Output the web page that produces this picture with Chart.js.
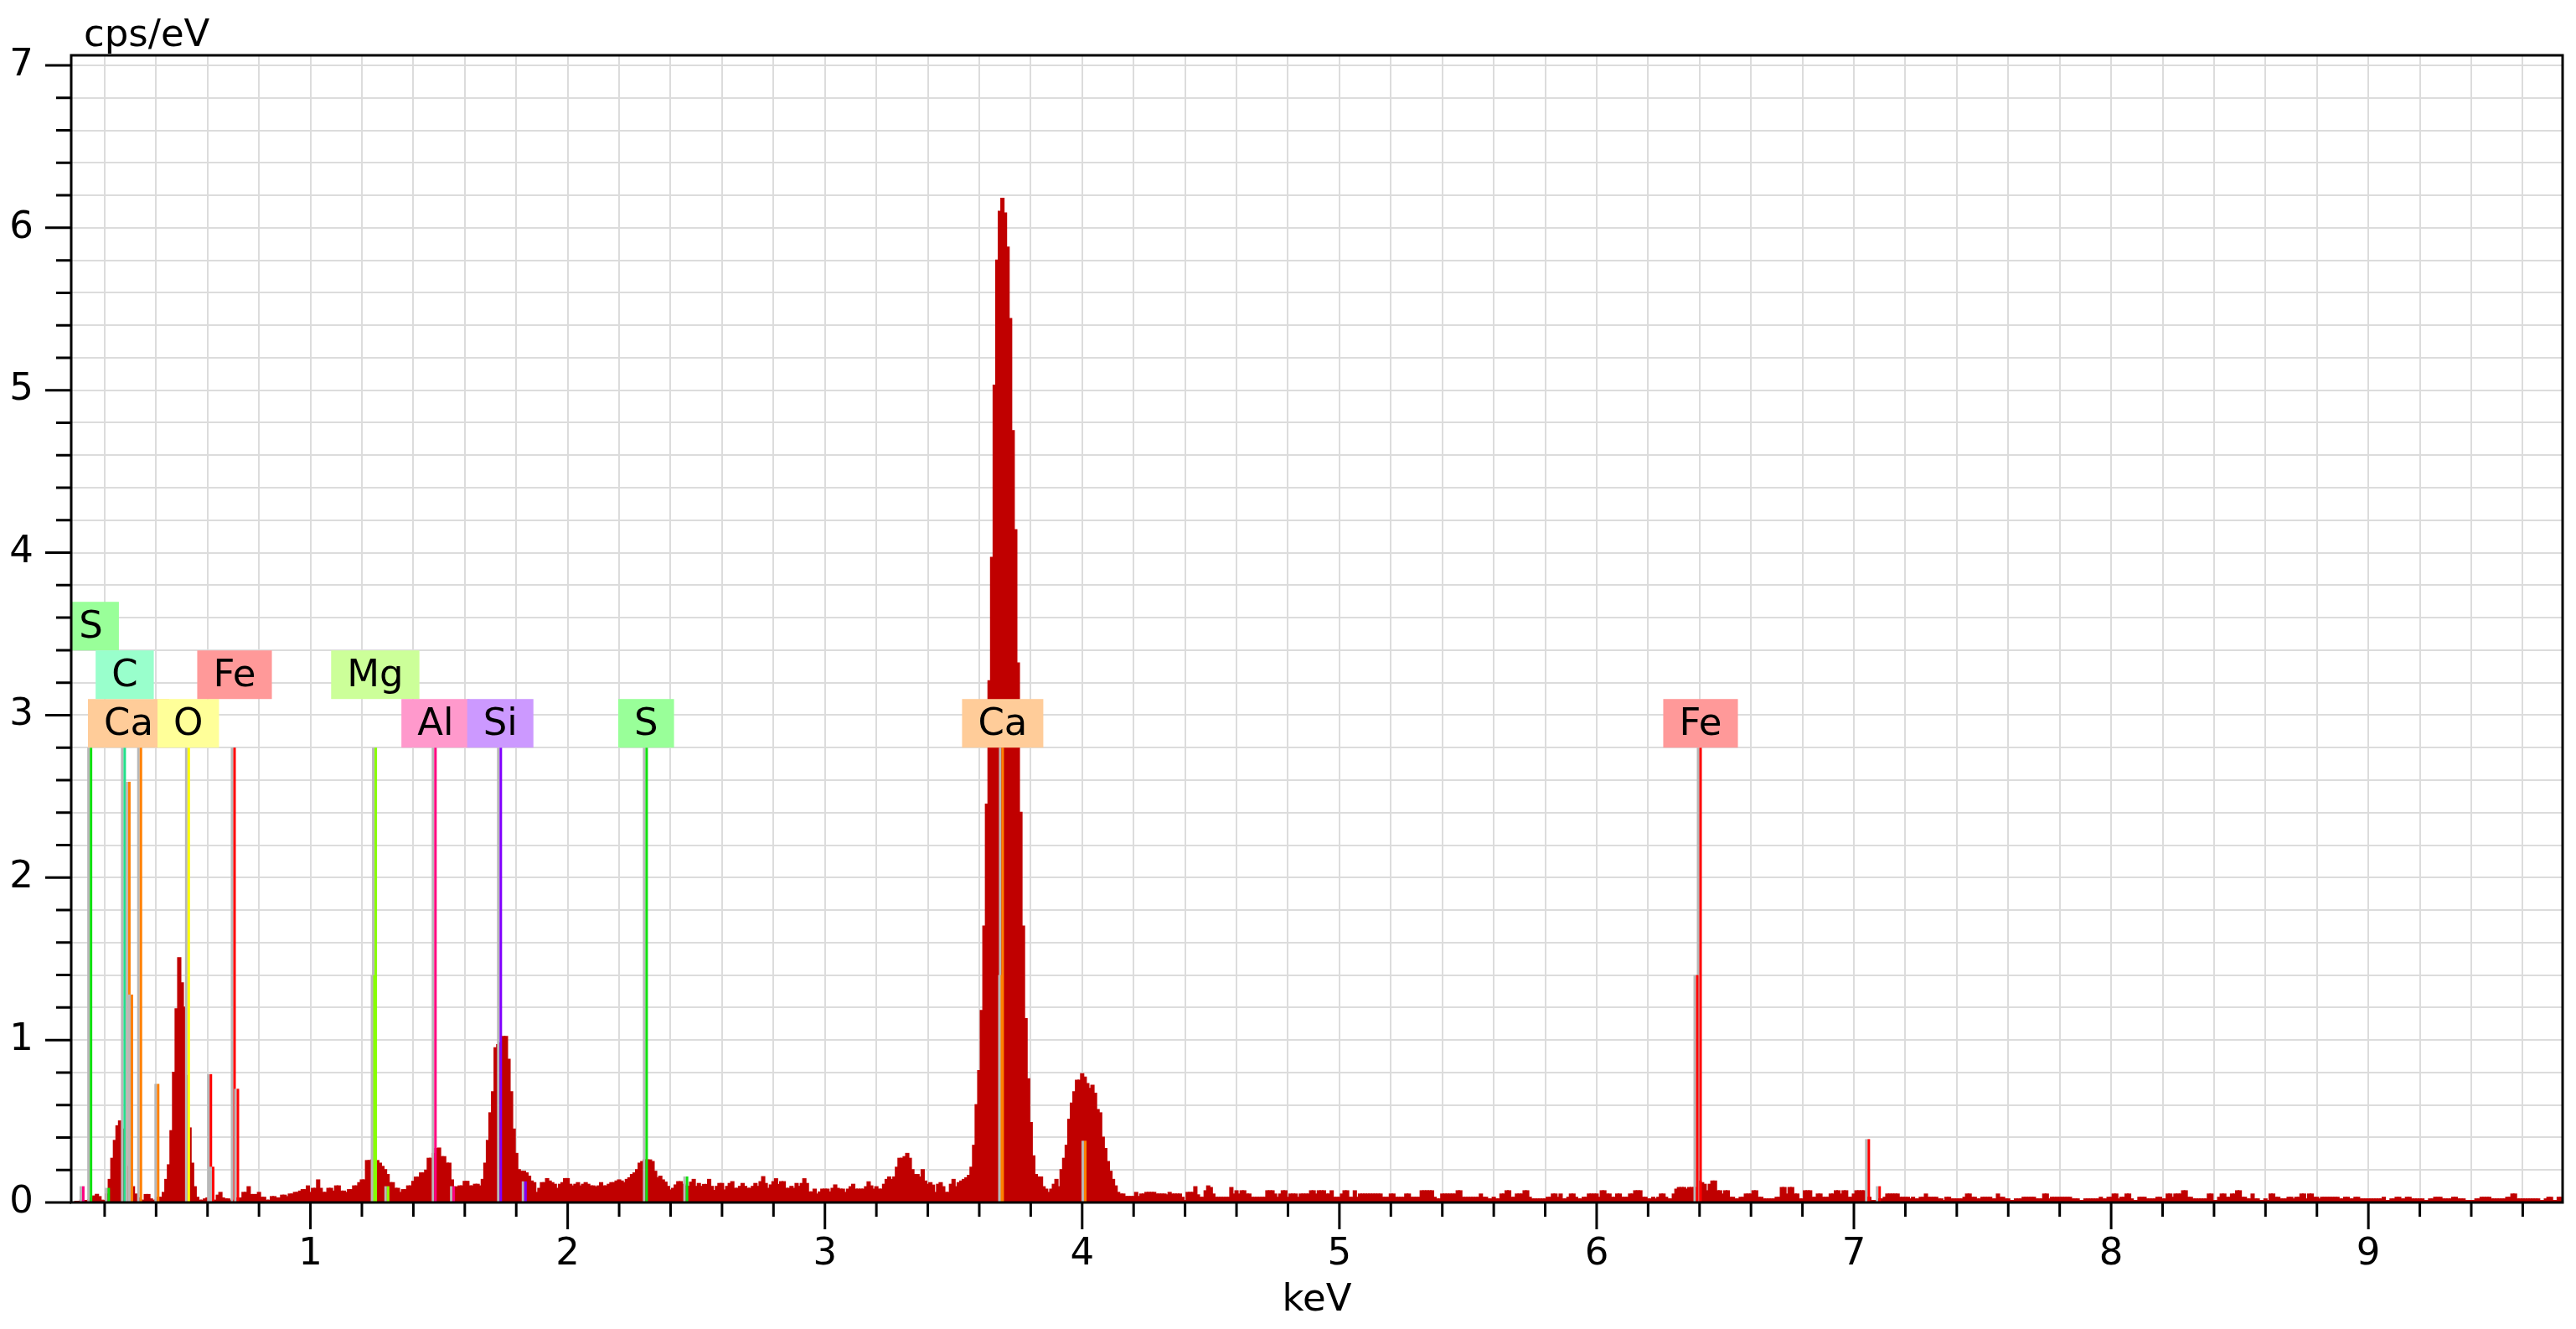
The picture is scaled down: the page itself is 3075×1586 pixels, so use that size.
<!DOCTYPE html>
<html>
<head>
<meta charset="utf-8">
<script src="https://cdn.jsdelivr.net/npm/chart.js@4.4.1/dist/chart.umd.min.js"></script>
<style>
  html, body { margin: 0; padding: 0; background: #fff; }
  #spec { display: block; }
</style>
</head>
<body>
<canvas id="spec" width="3075" height="1586"></canvas>
<script>
// --- Spectrum: 10 eV channels starting at 0.07 keV (cps/eV) ---
const spectrumStart = 0.07;
const channelWidth = 0.01;
const counts = [
  0, 0, 0.005, 0.005, 0.012, 0.01, 0.01, 0.015, 0.026, 0.038,          // 0.07
  0.048, 0.034, 0.012, 0.01, 0.05, 0.14, 0.27, 0.38, 0.47, 0.50,       // 0.17
  0.45, 0.34, 0.22, 0.14, 0.095, 0.05, 0.026, 0.012, 0.012, 0.047,     // 0.27
  0.047, 0.02, 0.012, 0.012, 0.03, 0.03, 0.06, 0.14, 0.23, 0.44,       // 0.37
  0.80, 1.19, 1.505, 1.35, 1.20, 0.78, 0.457, 0.24, 0.095, 0.03,       // 0.47
  0.012, 0.012, 0.02, 0.026, 0.012, 0.012, 0.012, 0.043, 0.06, 0.026,  // 0.57
  0.02, 0.02, 0.012, 0.012, 0.026, 0.012, 0.026, 0.06, 0.06, 0.095,    // 0.67
  0.047, 0.047, 0.047, 0.06, 0.03, 0.03, 0.012, 0.012, 0.034, 0.034,   // 0.77
  0.026, 0.026, 0.043, 0.043, 0.034, 0.05, 0.05, 0.06, 0.06, 0.068,    // 0.87
  0.077, 0.077, 0.10, 0.06, 0.085, 0.085, 0.137, 0.085, 0.06, 0.06,    // 0.97
  0.085, 0.085, 0.068, 0.10, 0.10, 0.068, 0.068, 0.06, 0.077, 0.077,   // 1.07
  0.10, 0.10, 0.12, 0.137, 0.137, 0.256, 0.256, 0.26, 0.26, 0.256,     // 1.17
  0.24, 0.22, 0.20, 0.17, 0.12, 0.12, 0.085, 0.085, 0.06, 0.077,       // 1.27
  0.077, 0.10, 0.10, 0.128, 0.154, 0.154, 0.18, 0.18, 0.197, 0.27,     // 1.37
  0.27, 0.30, 0.33, 0.333, 0.28, 0.28, 0.24, 0.24, 0.137, 0.094,       // 1.47
  0.094, 0.10, 0.10, 0.128, 0.128, 0.10, 0.10, 0.11, 0.11, 0.10,       // 1.57
  0.14, 0.24, 0.38, 0.55, 0.68, 0.95, 0.97, 0.98, 1.02, 1.02,          // 1.67
  0.88, 0.68, 0.45, 0.30, 0.20, 0.19, 0.19, 0.18, 0.16, 0.13,          // 1.77
  0.12, 0.06, 0.085, 0.12, 0.12, 0.145, 0.13, 0.12, 0.11, 0.085,       // 1.87
  0.11, 0.12, 0.145, 0.145, 0.11, 0.10, 0.11, 0.12, 0.10, 0.11,        // 1.97
  0.12, 0.11, 0.10, 0.10, 0.094, 0.10, 0.12, 0.10, 0.10, 0.11,         // 2.07
  0.12, 0.12, 0.13, 0.137, 0.13, 0.12, 0.14, 0.15, 0.17, 0.18,         // 2.17
  0.20, 0.24, 0.25, 0.26, 0.26, 0.26, 0.25, 0.19, 0.15, 0.16,          // 2.27
  0.137, 0.123, 0.097, 0.075, 0.085, 0.106, 0.126, 0.126, 0.11, 0.10,  // 2.37
  0.097, 0.123, 0.14, 0.097, 0.115, 0.097, 0.109, 0.109, 0.14, 0.097,  // 2.47
  0.072, 0.097, 0.115, 0.115, 0.075, 0.097, 0.115, 0.126, 0.085, 0.085,// 2.57
  0.097, 0.115, 0.097, 0.085, 0.085, 0.097, 0.115, 0.097, 0.126, 0.157,// 2.67
  0.115, 0.085, 0.106, 0.126, 0.144, 0.109, 0.126, 0.126, 0.085, 0.085,// 2.77
  0.097, 0.085, 0.115, 0.097, 0.115, 0.144, 0.115, 0.063, 0.063, 0.08, // 2.87
  0.05, 0.063, 0.08, 0.08, 0.08, 0.063, 0.085, 0.106, 0.085, 0.08,     // 2.97
  0.08, 0.06, 0.08, 0.095, 0.11, 0.08, 0.08, 0.08, 0.08, 0.095,        // 3.07
  0.125, 0.10, 0.08, 0.095, 0.08, 0.08, 0.11, 0.14, 0.155, 0.14,       // 3.17
  0.155, 0.215, 0.27, 0.27, 0.28, 0.30, 0.27, 0.20, 0.17, 0.17,        // 3.27
  0.155, 0.20, 0.13, 0.11, 0.12, 0.105, 0.06, 0.11, 0.12, 0.095,       // 3.37
  0.06, 0.06, 0.11, 0.14, 0.095, 0.12, 0.13, 0.14, 0.15, 0.165,        // 3.47
  0.215, 0.35, 0.60, 0.81, 1.18, 1.70, 2.45, 3.21, 3.97, 5.03,         // 3.57
  5.80, 6.10, 6.18, 6.09, 5.88, 5.44, 4.75, 4.14, 3.32, 2.40,          // 3.67
  1.70, 1.13, 0.76, 0.49, 0.285, 0.17, 0.155, 0.155, 0.095, 0.08,      // 3.77
  0.06, 0.08, 0.11, 0.14, 0.095, 0.20, 0.27, 0.35, 0.51, 0.61,         // 3.87
  0.68, 0.75, 0.75, 0.79, 0.77, 0.73, 0.70, 0.72, 0.67, 0.57,          // 3.97
  0.55, 0.40, 0.33, 0.25, 0.19, 0.14, 0.10, 0.06, 0.05, 0.05,          // 4.07
  0.035, 0.035, 0.035, 0.035, 0.06, 0.035, 0.05, 0.05, 0.06, 0.06,     // 4.17
  0.06, 0.06, 0.05, 0.05, 0.05, 0.05, 0.045, 0.06, 0.05, 0.05,         // 4.27
  0.05, 0.05, 0.03, 0.01, 0.06, 0.06, 0.06, 0.095, 0.045, 0.03,        // 4.37
  0.03, 0.07, 0.10, 0.09, 0.05, 0.03, 0.03, 0.03, 0.03, 0.03,          // 4.47
  0.03, 0.09, 0.05, 0.07, 0.05, 0.07, 0.07, 0.05, 0.05, 0.03,          // 4.57
  0.03, 0.03, 0.03, 0.03, 0.03, 0.07, 0.07, 0.07, 0.05, 0.03,          // 4.67
  0.05, 0.07, 0.07, 0.03, 0.05, 0.05, 0.05, 0.03, 0.05, 0.05,          // 4.77
  0.05, 0.05, 0.07, 0.07, 0.05, 0.07, 0.07, 0.07, 0.05, 0.05,          // 4.87
  0.07, 0.03, 0.03, 0.03, 0.05, 0.07, 0.07, 0.03, 0.03, 0.07,          // 4.97
  0.03, 0.05, 0.05, 0.05, 0.05, 0.05, 0.05, 0.05, 0.05, 0.05,          // 5.07
  0.03, 0.03, 0.03, 0.05, 0.05, 0.03, 0.03, 0.03, 0.03, 0.05,          // 5.17
  0.05, 0.03, 0.03, 0.03, 0.03, 0.07, 0.07, 0.07, 0.07, 0.07,          // 5.27
  0.03, 0.02, 0.02, 0.05, 0.05, 0.05, 0.05, 0.05, 0.05, 0.07,          // 5.37
  0.07, 0.03, 0.03, 0.03, 0.03, 0.03, 0.03, 0.03, 0.05, 0.03,          // 5.47
  0.03, 0.02, 0.02, 0.03, 0.02, 0.02, 0.05, 0.05, 0.07, 0.07,          // 5.57
  0.03, 0.03, 0.05, 0.05, 0.05, 0.07, 0.07, 0.03, 0.02, 0.02,          // 5.67
  0.02, 0.02, 0.02, 0.02, 0.03, 0.03, 0.05, 0.05, 0.03, 0.05,          // 5.77
  0.02, 0.02, 0.03, 0.05, 0.05, 0.03, 0.02, 0.02, 0.03, 0.03,          // 5.87
  0.05, 0.05, 0.05, 0.05, 0.03, 0.07, 0.07, 0.05, 0.05, 0.03,          // 5.97
  0.03, 0.05, 0.05, 0.03, 0.03, 0.03, 0.05, 0.05, 0.07, 0.07,          // 6.07
  0.07, 0.03, 0.03, 0.02, 0.02, 0.03, 0.02, 0.03, 0.05, 0.05,          // 6.17
  0.03, 0.02, 0.02, 0.05, 0.08, 0.09, 0.09, 0.09, 0.08, 0.09,          // 6.27
  0.09, 0.09, 0.09, 0.13, 0.12, 0.11, 0.07, 0.11, 0.13, 0.13,          // 6.37
  0.07, 0.07, 0.05, 0.07, 0.07, 0.03, 0.03, 0.02, 0.02, 0.03,          // 6.47
  0.03, 0.05, 0.05, 0.05, 0.07, 0.07, 0.03, 0.03, 0.02, 0.02,          // 6.57
  0.02, 0.02, 0.02, 0.03, 0.03, 0.09, 0.09, 0.05, 0.09, 0.09,          // 6.67
  0.05, 0.05, 0.02, 0.02, 0.07, 0.07, 0.07, 0.03, 0.03, 0.05,          // 6.77
  0.05, 0.03, 0.03, 0.03, 0.05, 0.05, 0.07, 0.07, 0.05, 0.07,          // 6.87
  0.07, 0.03, 0.03, 0.05, 0.07, 0.07, 0.07, 0.07, 0.03, 0.03,          // 6.97
  0.01, 0.01, 0.01, 0.02, 0.02, 0.03, 0.05, 0.05, 0.05, 0.05,          // 7.07
  0.05, 0.03, 0.03, 0.03, 0.03, 0.02, 0.03, 0.02, 0.02, 0.03,          // 7.17
  0.03, 0.05, 0.03, 0.03, 0.03, 0.03, 0.02, 0.02, 0.01, 0.03,          // 7.27
  0.03, 0.02, 0.02, 0.02, 0.02, 0.02, 0.03, 0.05, 0.05, 0.03,          // 7.37
  0.03, 0.02, 0.02, 0.03, 0.03, 0.03, 0.03, 0.02, 0.02, 0.05,          // 7.47
  0.03, 0.03, 0.02, 0.02, 0.01, 0.01, 0.02, 0.02, 0.02, 0.03,          // 7.57
  0.03, 0.03, 0.03, 0.03, 0.02, 0.02, 0.02, 0.05, 0.05, 0.02,          // 7.67
  0.03, 0.03, 0.03, 0.03, 0.03, 0.03, 0.03, 0.03, 0.02, 0.02,          // 7.77
  0.02, 0.01, 0.01, 0.02, 0.02, 0.02, 0.02, 0.02, 0.02, 0.03,          // 7.87
  0.02, 0.02, 0.03, 0.03, 0.05, 0.05, 0.02, 0.03, 0.03, 0.05,          // 7.97
  0.05, 0.02, 0.01, 0.01, 0.03, 0.03, 0.03, 0.02, 0.02, 0.02,          // 8.07
  0.02, 0.03, 0.03, 0.02, 0.02, 0.05, 0.05, 0.03, 0.05, 0.05,          // 8.17
  0.05, 0.07, 0.07, 0.03, 0.03, 0.02, 0.02, 0.02, 0.02, 0.02,          // 8.27
  0.02, 0.05, 0.05, 0.01, 0.01, 0.03, 0.05, 0.05, 0.03, 0.03,          // 8.37
  0.05, 0.05, 0.07, 0.07, 0.03, 0.03, 0.02, 0.02, 0.05, 0.02,          // 8.47
  0.02, 0.01, 0.01, 0.02, 0.01, 0.05, 0.05, 0.03, 0.03, 0.02,          // 8.57
  0.02, 0.02, 0.03, 0.03, 0.02, 0.03, 0.03, 0.05, 0.05, 0.02,          // 8.67
  0.05, 0.05, 0.03, 0.03, 0.02, 0.03, 0.03, 0.03, 0.03, 0.03,          // 8.77
  0.03, 0.03, 0.02, 0.02, 0.03, 0.03, 0.02, 0.02, 0.03, 0.03,          // 8.87
  0.02, 0.02, 0.02, 0.02, 0.02, 0.02, 0.02, 0.02, 0.02, 0.03,          // 8.97
  0.01, 0.01, 0.02, 0.02, 0.03, 0.03, 0.02, 0.02, 0.03, 0.03,          // 9.07
  0.02, 0.02, 0.02, 0.02, 0.02, 0.01, 0.01, 0.02, 0.02, 0.03,          // 9.17
  0.03, 0.03, 0.02, 0.02, 0.02, 0.02, 0.03, 0.03, 0.02, 0.02,          // 9.27
  0.02, 0.01, 0.01, 0.01, 0.01, 0.02, 0.02, 0.03, 0.03, 0.03,          // 9.37
  0.03, 0.02, 0.02, 0.02, 0.02, 0.02, 0.02, 0.03, 0.03, 0.05,          // 9.47
  0.05, 0.02, 0.02, 0.02, 0.02, 0.02, 0.02, 0.02, 0.02, 0.02,          // 9.57
  0.01, 0.01, 0.02, 0.03, 0.03, 0.01, 0.01, 0.03, 0.03, 0.03           // 9.67
];

// --- Element line markers (keV, relative height in cps/eV) ---
const markerElement = ['Al', 'S', 'S', 'C', 'Ca', 'Ca', 'Ca', 'Ca', 'O', 'Fe', 'Fe', 'Fe', 'Fe',
                       'Mg', 'Mg', 'Mg', 'Al', 'Al', 'Si', 'Si', 'S', 'S', 'Ca', 'Ca', 'Ca',
                       'Fe', 'Fe', 'Fe', 'Fe'];
const markerEnergy  = [0.117, 0.147, 0.216, 0.278, 0.296, 0.306, 0.341, 0.408, 0.527, 0.613, 0.622, 0.705, 0.718,
                       1.254, 1.249, 1.302, 1.486, 1.557, 1.740, 1.836, 2.307, 2.464, 3.691, 3.688, 4.012,
                       6.404, 6.391, 7.058, 7.10];
const markerHeight  = [0.10, 2.8, 0.09, 2.8, 2.59, 1.28, 2.8, 0.73, 2.8, 0.79, 0.22, 2.8, 0.70,
                       2.8, 1.4, 0.10, 2.8, 0.10, 2.8, 0.13, 2.8, 0.16, 2.8, 1.4, 0.38,
                       2.8, 1.4, 0.39, 0.10];

// --- Element labels ---
const labelText   = ['S', 'Ca', 'C', 'O', 'Fe', 'Mg', 'Al', 'Si', 'S', 'Ca', 'Fe'];
const labelEnergy = [0.147, 0.293, 0.278, 0.525, 0.705, 1.252, 1.486, 1.738, 2.305, 3.691, 6.404];
const labelTier   = [2, 0, 1, 0, 1, 1, 0, 0, 0, 0, 0];

// --- Per-element colours ---
const elements    = ['C', 'O', 'Mg', 'Al', 'Si', 'S', 'Ca', 'Fe'];
const lineColors  = ['#22e08a', '#ffff00', '#88ff00', '#ff0080', '#8000ff', '#10e010', '#ff8000', '#ff0000'];
const boxColors   = ['#99ffcc', '#ffff99', '#ccff99', '#ff99cc', '#cc99ff', '#99ff99', '#ffcc99', '#ff9999'];

const xTitle = 'keV';
const yUnit  = 'cps/eV';

const FONT = 'DejaVu Sans';
const isWhole = v => Math.abs(v - Math.round(v)) < 1e-6;
const colorOf = (el, list) => list[elements.indexOf(el)];

const points = counts.map((v, i) => ({ x: +(spectrumStart + i * channelWidth).toFixed(2), y: v }));

// --- Marker lines and labels, drawn over the spectrum ---
const markerPlugin = {
  id: 'markers',
  afterDatasetsDraw(chart) {
    const { ctx, chartArea: a, scales: { x, y } } = chart;
    ctx.save();
    ctx.beginPath();
    ctx.rect(a.left, a.top, a.width, a.height);
    ctx.clip();

    const base = y.getPixelForValue(0);
    markerEnergy.forEach((e, i) => {
      const px = x.getPixelForValue(e);
      const top = y.getPixelForValue(markerHeight[i]);
      ctx.fillStyle = '#b8b8b8';
      ctx.fillRect(px - 4.5, top, 3, base - top);
      ctx.fillStyle = colorOf(markerElement[i], lineColors);
      ctx.fillRect(px - 1.5, top, 3, base - top);
    });

    // boxes stacked above the tallest line
    const boxH = 58;
    const tierBase = y.getPixelForValue(2.8);
    ctx.font = `45px "${FONT}"`;
    ctx.textAlign = 'center';
    ctx.textBaseline = 'middle';
    labelText.forEach((t, i) => {
      const cx = x.getPixelForValue(labelEnergy[i]);
      const bottom = tierBase - labelTier[i] * boxH;
      const w = ctx.measureText(t).width + 38;
      ctx.fillStyle = colorOf(t, boxColors);
      ctx.fillRect(cx - w / 2, bottom - boxH, w, boxH);
      ctx.fillStyle = '#000';
      ctx.fillText(t, cx, bottom - boxH / 2 + 2);
    });
    ctx.restore();
  }
};

// --- Frame, tick marks and unit text ---
const framePlugin = {
  id: 'frame',
  afterDraw(chart) {
    const { ctx, chartArea: a, scales: { x, y } } = chart;
    ctx.save();
    ctx.strokeStyle = '#000';
    ctx.lineWidth = 3;
    ctx.beginPath();
    x.ticks.forEach(t => {
      const px = x.getPixelForValue(t.value);
      ctx.moveTo(px, a.bottom);
      ctx.lineTo(px, a.bottom + (isWhole(t.value) ? 32 : 17));
    });
    y.ticks.forEach(t => {
      const py = y.getPixelForValue(t.value);
      ctx.moveTo(a.left - (isWhole(t.value) ? 31 : 18), py);
      ctx.lineTo(a.left, py);
    });
    ctx.stroke();
    ctx.strokeRect(a.left, a.top, a.width, a.height);

    ctx.fillStyle = '#000';
    ctx.font = `45px "${FONT}"`;
    ctx.textAlign = 'left';
    ctx.textBaseline = 'alphabetic';
    ctx.fillText(yUnit, a.left + 15, 55);
    ctx.restore();
  }
};

const tickFont = { family: FONT, size: 45 };
const gridOpts = { color: '#dcdcdc', lineWidth: 2, tickLength: 32, tickColor: 'rgba(0,0,0,0)', offset: false };

new Chart(document.getElementById('spec').getContext('2d'), {
  type: 'bar',
  data: {
    datasets: [{
      data: points,
      backgroundColor: '#c00000',
      borderWidth: 0,
      barPercentage: 1,
      categoryPercentage: 1,
      inflateAmount: 1,
      grouped: false
    }]
  },
  options: {
    responsive: false,
    animation: false,
    devicePixelRatio: 1,
    layout: { padding: { top: 66, right: 16, bottom: 0, left: 0 } },
    plugins: { legend: { display: false }, tooltip: { enabled: false } },
    scales: {
      x: {
        type: 'linear',
        offset: false,
        min: 0.07,
        max: 9.755,
        afterFit: s => { s.height = 151; },
        grid: gridOpts,
        border: { display: false },
        ticks: {
          stepSize: 0.2, includeBounds: false, autoSkip: false, maxRotation: 0,
          padding: 3, color: '#000', font: tickFont,
          callback: v => isWhole(v) ? String(Math.round(v)) : ''
        },
        title: { display: true, text: xTitle, color: '#000', font: tickFont, padding: { top: 0, bottom: 7 } }
      },
      y: {
        min: 0,
        max: 7.062,
        afterFit: s => { s.width = 85; },
        grid: gridOpts,
        border: { display: false },
        ticks: {
          stepSize: 0.2, includeBounds: false, autoSkip: false,
          padding: 13, color: '#000', font: tickFont,
          callback: v => isWhole(v) ? String(Math.round(v)) : ''
        }
      }
    }
  },
  plugins: [markerPlugin, framePlugin]
});
</script>
</body>
</html>
